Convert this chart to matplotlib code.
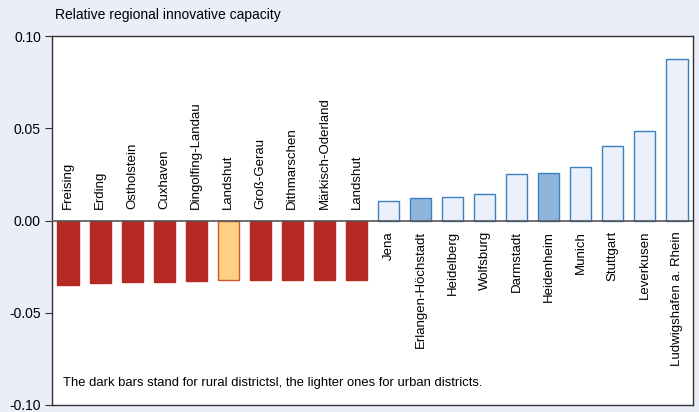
import numpy as np
import matplotlib.pyplot as plt

plt.rcParams['font.family'] = ['Liberation Sans', 'DejaVu Sans']

# rural districts (dark bars), negative values
rural_names = ["Freising", "Erding", "Ostholstein", "Cuxhaven", "Dingolfing-Landau",
               "Landshut", "Groß-Gerau", "Dithmarschen", "Märkisch-Oderland", "Landshut"]
rural_vals = [-0.0347, -0.0341, -0.0334, -0.0331, -0.0327,
              -0.0323, -0.0325, -0.0323, -0.0320, -0.0320]

# urban districts (light bars), positive values
urban_names = ["Jena", "Erlangen-Höchstadt", "Heidelberg", "Wolfsburg", "Darmstadt",
               "Heidenheim", "Munich", "Stuttgart", "Leverkusen", "Ludwigshafen a. Rhein"]
urban_vals = [0.0103, 0.0121, 0.0127, 0.0141, 0.0251,
              0.0260, 0.0289, 0.0403, 0.0484, 0.0875]

bg = "#ebeef9"
red = "#b52a22"
yellow = "#fdd084"
light_blue = "#ebf0fb"
mid_blue = "#90b5dc"
blue_edge = "#3c80c2"

fig = plt.figure(figsize=(6.99, 4.12), dpi=100, facecolor=bg)
ax = fig.add_axes([0.0744, 0.017, 0.917, 0.8956])
ax.set_facecolor("white")

n = len(rural_vals)
x_r = np.arange(n)
x_u = np.arange(n, n + len(urban_vals))
w = 0.66

r_colors = [red] * n
r_colors[5] = yellow
r_edges = [red] * n
r_edges[5] = "#d2553a"
ax.bar(x_r, rural_vals, width=w, color=r_colors, edgecolor=r_edges, linewidth=1, zorder=2)

u_colors = [light_blue] * len(urban_vals)
u_colors[1] = mid_blue
u_colors[5] = mid_blue
ax.bar(x_u, urban_vals, width=w, color=u_colors, edgecolor=blue_edge, linewidth=1, zorder=2)

ax.axhline(0, color="#555555", linewidth=1.2, zorder=3)

for xi, name in zip(x_r, rural_names):
    ax.annotate(name, (xi, 0), xytext=(0, 8.5), textcoords="offset points",
                rotation=90, ha="center", va="bottom", fontsize=9.5)
for xi, name in zip(x_u, urban_names):
    ax.annotate(name, (xi, 0), xytext=(0, -7.5), textcoords="offset points",
                rotation=90, ha="center", va="top", fontsize=9.5)

ax.set_xlim(-0.5, 19.5)
ax.set_ylim(-0.10, 0.10)
ax.set_yticks([-0.10, -0.05, 0.00, 0.05, 0.10])
ax.set_yticklabels(["-0.10", "-0.05", "0.00", "0.05", "0.10"], fontsize=10)
ax.set_xticks([])
ax.tick_params(axis="y", direction="out", length=5, color="#333333", pad=3)
for s in ax.spines.values():
    s.set_color("#333333")
    s.set_linewidth(1)

fig.text(0.079, 0.963, "Relative regional innovative capacity", fontsize=10, va="center")
ax.text(0.017, 0.06, "The dark bars stand for rural districtsl, the lighter ones for urban districts.",
        transform=ax.transAxes, fontsize=9.4, va="center")

fig.savefig("out.png", dpi=100, facecolor=bg)
